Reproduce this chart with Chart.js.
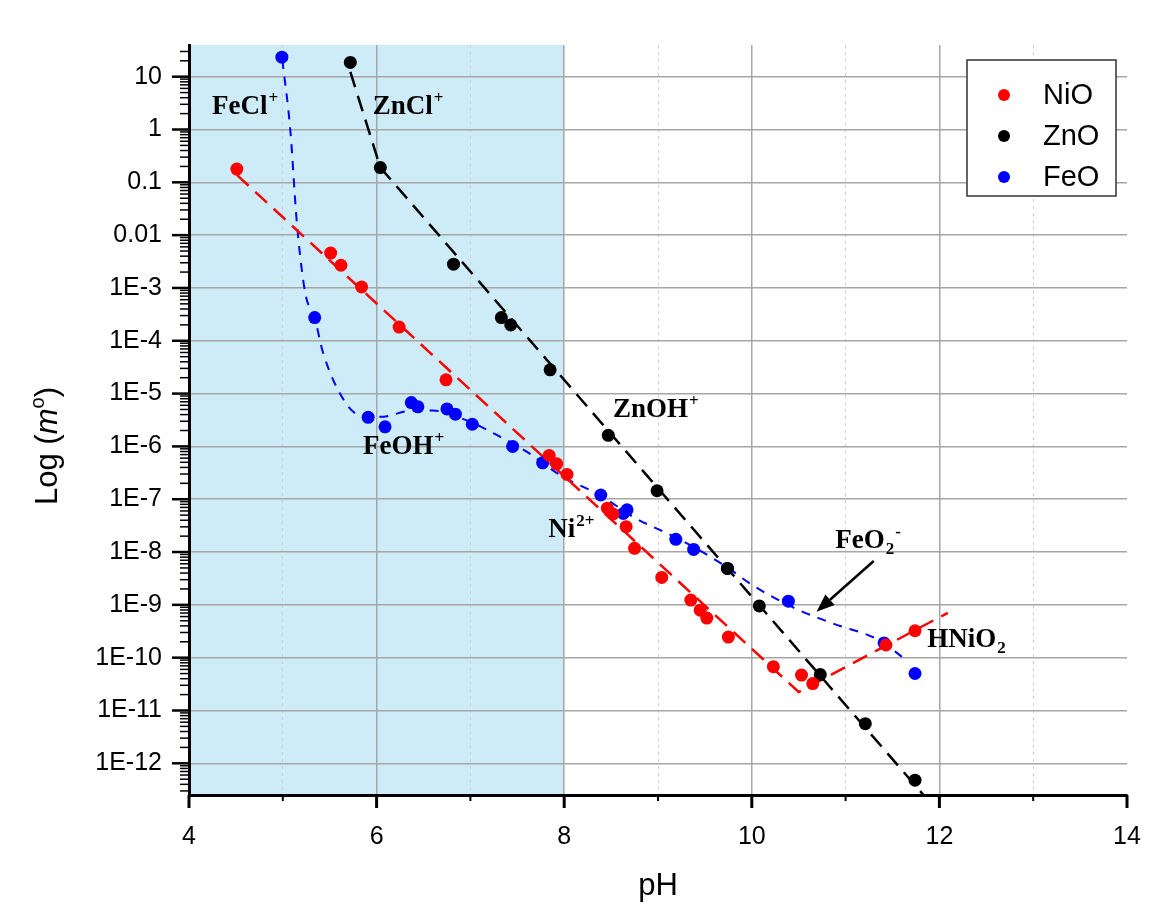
<!DOCTYPE html>
<html>
<head>
<meta charset="utf-8">
<script src="https://cdn.jsdelivr.net/npm/chart.js@4.4.0/dist/chart.umd.min.js"></script>
<style>
  body { margin: 0; background: #fff; }
  #wrap { width: 1149px; height: 915px; }
</style>
</head>
<body>
<div id="wrap"><canvas id="chart" width="1149" height="915"></canvas></div>
<script>
// -----------------------------------------------------------------------------
// DATA (y values are log10 of m°)
// -----------------------------------------------------------------------------

// NiO measured points
const niPH  = [4.51, 5.51, 5.62, 5.84, 6.24, 6.74, 7.84, 7.92, 8.03, 8.46, 8.52, 8.66, 8.75, 9.04, 9.35, 9.45, 9.52, 9.75, 10.23, 10.53, 10.65, 11.43, 11.74];
const niLog = [-0.75, -2.34, -2.57, -2.98, -3.74, -4.74, -6.17, -6.33, -6.53, -7.17, -7.28, -7.52, -7.93, -8.48, -8.91, -9.10, -9.25, -9.61, -10.17, -10.33, -10.49, -9.76, -9.49];

// ZnO measured points
const znPH  = [5.72, 6.04, 6.82, 7.33, 7.43, 7.85, 8.47, 8.99, 9.74, 10.08, 10.73, 11.21, 11.74];
const znLog = [1.27, -0.72, -2.55, -3.56, -3.70, -4.55, -5.79, -6.84, -8.31, -9.02, -10.32, -11.25, -12.32];

// FeO measured points
const fePH  = [4.99, 5.34, 5.91, 6.09, 6.37, 6.44, 6.75, 6.84, 7.02, 7.45, 7.77, 8.39, 8.63, 8.67, 9.19, 9.38, 9.74, 10.39, 11.41, 11.74];
const feLog = [1.37, -3.56, -5.45, -5.63, -5.17, -5.25, -5.29, -5.39, -5.58, -6.00, -6.31, -6.92, -7.27, -7.20, -7.76, -7.95, -8.31, -8.93, -9.72, -10.30];

// model curves (dashed)
const niFitPH  = [4.51, 10.50, 12.09];
const niFitLog = [-0.86, -10.65, -9.15];
const znFitPH  = [5.72, 6.04, 11.85];
const znFitLog = [1.09, -0.72, -12.64];
const feFitPH  = [4.995, 5.08, 5.15, 5.24, 5.34, 5.43, 5.65, 5.82, 6.04, 6.39, 6.60, 6.99, 7.32, 7.60, 7.99, 8.38, 8.73, 9.24, 9.73, 10.01, 10.43, 10.86, 11.36, 11.62];
const feFitLog = [1.32, -0.01, -1.77, -3.10, -3.57, -4.23, -5.12, -5.41, -5.44, -5.32, -5.32, -5.53, -5.82, -6.10, -6.58, -6.92, -7.33, -7.77, -8.28, -8.63, -9.04, -9.35, -9.67, -10.01];

// axes
const xMin = 4, xMax = 14;
const yMinExp = -12.6, yMaxExp = 1.6;
const yTickExps   = [-12, -11, -10, -9, -8, -7, -6, -5, -4, -3, -2, -1, 0, 1];
const yTickLabels = ['1E-12', '1E-11', '1E-10', '1E-9', '1E-8', '1E-7', '1E-6', '1E-5', '1E-4', '1E-3', '0.01', '0.1', '1', '10'];

// shaded acidic region
const shadeFrom = 4, shadeTo = 8;

// species labels
const spText = ['FeCl', 'ZnCl', 'FeOH', 'ZnOH', 'Ni', 'FeO', 'HNiO'];
const spSub  = ['', '', '', '', '', '2', '2'];
const spSup  = ['+', '+', '+', '+', '2+', '-', ''];
const spPH   = [4.245, 5.96, 5.855, 8.52, 7.83, 10.89, 11.87];
const spLog  = [0.29, 0.29, -6.15, -5.45, -7.72, -7.92, -9.80];

// arrow pointing at the FeO2- branch
const arrowPH  = [11.30, 10.69];
const arrowLog = [-8.17, -9.13];

const seriesNames  = ['NiO', 'ZnO', 'FeO'];
const seriesColors = ['#ff0000', '#000000', '#0000ff'];

// -----------------------------------------------------------------------------
// HELPERS
// -----------------------------------------------------------------------------

function toPoints(xs, logs) {
  return xs.map((x, i) => ({ x: x, y: Math.pow(10, logs[i]) }));
}

const SANS = '"Liberation Sans", Arial, sans-serif';
const SERIF = '"Liberation Serif", "Times New Roman", serif';

function drawSpecies(ctx, x, y, text, sub, sup) {
  ctx.fillStyle = '#000';
  ctx.textBaseline = 'alphabetic';
  ctx.textAlign = 'left';
  ctx.font = 'bold 27px ' + SERIF;
  ctx.fillText(text, x, y);
  let cx = x + ctx.measureText(text).width;
  ctx.font = 'bold 17px ' + SERIF;
  if (sub) {
    ctx.fillText(sub, cx + 1, y + 6);
    cx += ctx.measureText(sub).width + 1;
  }
  if (sup) {
    ctx.fillText(sup, cx + 1, y - 11);
  }
}

// -----------------------------------------------------------------------------
// PLUGIN: shading, tick marks, labels, legend
// -----------------------------------------------------------------------------

const extras = {
  id: 'extras',
  beforeDraw(chart) {
    const { ctx, chartArea, scales: { x } } = chart;
    const x0 = x.getPixelForValue(shadeFrom);
    const x1 = x.getPixelForValue(shadeTo);
    ctx.save();
    ctx.fillStyle = '#cdecf8';
    ctx.fillRect(x0, chartArea.top, x1 - x0, chartArea.bottom - chartArea.top);
    ctx.restore();
  },
  afterDraw(chart) {
    const { ctx, chartArea, scales: { x, y } } = chart;
    ctx.save();

    // x tick marks (outside, below)
    ctx.strokeStyle = '#000';
    for (let v = xMin; v <= xMax; v++) {
      const px = x.getPixelForValue(v);
      const major = v % 2 === 0;
      ctx.lineWidth = major ? 3 : 2;
      ctx.beginPath();
      ctx.moveTo(px, chartArea.bottom);
      ctx.lineTo(px, chartArea.bottom + (major ? 13 : 6));
      ctx.stroke();
    }

    // y tick marks (outside, left), decades + minor
    for (let e = -13; e <= 1; e++) {
      for (let m = 1; m <= 9; m++) {
        const lg = e + Math.log10(m);
        if (lg < yMinExp || lg > yMaxExp) continue;
        const py = y.getPixelForValue(m * Math.pow(10, e));
        const major = m === 1;
        ctx.lineWidth = major ? 2.5 : 1.5;
        ctx.beginPath();
        ctx.moveTo(chartArea.left, py);
        ctx.lineTo(chartArea.left - (major ? 17 : 9), py);
        ctx.stroke();
      }
    }

    // species labels
    spText.forEach((t, i) => {
      drawSpecies(ctx, x.getPixelForValue(spPH[i]), y.getPixelForValue(Math.pow(10, spLog[i])), t, spSub[i], spSup[i]);
    });

    // arrow
    const ax0 = x.getPixelForValue(arrowPH[0]), ay0 = y.getPixelForValue(Math.pow(10, arrowLog[0]));
    const ax1 = x.getPixelForValue(arrowPH[1]), ay1 = y.getPixelForValue(Math.pow(10, arrowLog[1]));
    const ang = Math.atan2(ay1 - ay0, ax1 - ax0);
    const headLen = 18, headW = 7;
    const bx = ax1 - headLen * Math.cos(ang), by = ay1 - headLen * Math.sin(ang);
    ctx.strokeStyle = '#000';
    ctx.fillStyle = '#000';
    ctx.lineWidth = 2.5;
    ctx.beginPath();
    ctx.moveTo(ax0, ay0);
    ctx.lineTo(bx, by);
    ctx.stroke();
    ctx.beginPath();
    ctx.moveTo(ax1, ay1);
    ctx.lineTo(bx + headW * Math.sin(ang), by - headW * Math.cos(ang));
    ctx.lineTo(bx - headW * Math.sin(ang), by + headW * Math.cos(ang));
    ctx.closePath();
    ctx.fill();

    // legend
    ctx.fillStyle = '#fff';
    ctx.fillRect(967, 60, 149, 136);
    ctx.strokeStyle = '#333';
    ctx.lineWidth = 1.5;
    ctx.strokeRect(967, 60, 149, 136);
    ctx.font = '29px ' + SANS;
    ctx.textBaseline = 'middle';
    ctx.textAlign = 'left';
    seriesNames.forEach((name, i) => {
      const ly = 95 + i * 41;
      ctx.fillStyle = seriesColors[i];
      ctx.beginPath();
      ctx.arc(1004, ly, 6, 0, Math.PI * 2);
      ctx.fill();
      ctx.fillStyle = '#000';
      ctx.fillText(name, 1043, ly + 1);
    });

    // x title
    ctx.font = '31px ' + SANS;
    ctx.textAlign = 'center';
    ctx.textBaseline = 'middle';
    ctx.fillText('pH', (chartArea.left + chartArea.right) / 2, 886);

    // y title: Log (m°)
    ctx.translate(57, 446);
    ctx.rotate(-Math.PI / 2);
    const parts = [
      { t: 'Log (', f: '31px ' + SANS, dy: 0 },
      { t: 'm', f: 'italic 31px ' + SANS, dy: 0 },
      { t: 'o', f: '20px ' + SANS, dy: -13 },
      { t: ')', f: '31px ' + SANS, dy: 0 }
    ];
    let total = 0;
    parts.forEach(p => { ctx.font = p.f; p.w = ctx.measureText(p.t).width; total += p.w; });
    let cx = -total / 2;
    ctx.textAlign = 'left';
    ctx.textBaseline = 'alphabetic';
    parts.forEach(p => { ctx.font = p.f; ctx.fillText(p.t, cx, p.dy); cx += p.w; });

    ctx.restore();
  }
};

// -----------------------------------------------------------------------------
// CHART
// -----------------------------------------------------------------------------

const pointStyle = (color) => ({
  showLine: false,
  pointRadius: 6.5,
  pointBackgroundColor: color,
  pointBorderWidth: 0,
  pointHoverRadius: 6.5
});

const lineStyle = (color, dash, width) => ({
  showLine: true,
  borderColor: color,
  borderDash: dash,
  borderWidth: width,
  pointRadius: 0,
  fill: false
});

new Chart(document.getElementById('chart'), {
  type: 'scatter',
  data: {
    datasets: [
      { label: 'NiO', data: toPoints(niPH, niLog), ...pointStyle(seriesColors[0]) },
      { label: 'ZnO', data: toPoints(znPH, znLog), ...pointStyle(seriesColors[1]) },
      { label: 'FeO', data: toPoints(fePH, feLog), ...pointStyle(seriesColors[2]) },
      { label: 'NiO fit', data: toPoints(niFitPH, niFitLog), ...lineStyle('#ff0000', [16, 9], 2.5), tension: 0 },
      { label: 'ZnO fit', data: toPoints(znFitPH, znFitLog), ...lineStyle('#000000', [16, 9], 2.5), tension: 0 },
      { label: 'FeO fit', data: toPoints(feFitPH, feFitLog), ...lineStyle('#0000ff', [9, 8], 2), cubicInterpolationMode: 'monotone' }
    ]
  },
  options: {
    responsive: false,
    animation: false,
    devicePixelRatio: 1,
    layout: { padding: { left: 0, top: 45, right: 22, bottom: 0 } },
    plugins: {
      legend: { display: false },
      tooltip: { enabled: false }
    },
    scales: {
      x: {
        type: 'linear',
        min: xMin,
        max: xMax,
        afterFit: (scale) => {
          scale.height = 120;
          scale.paddingLeft = 0;
          scale.paddingRight = 0;
        },
        ticks: {
          stepSize: 1,
          autoSkip: false,
          maxRotation: 0,
          padding: 27,
          color: '#000',
          font: { family: SANS, size: 25 },
          callback: (v) => (v % 2 === 0 ? String(v) : '')
        },
        grid: {
          drawTicks: false,
          color: (c) => {
            if (!c.tick) return '#a6a6a6';
            if (c.tick.value === xMax) return 'rgba(0,0,0,0)';
            return c.tick.value % 2 === 0 ? '#a6a6a6' : '#cfcfcf';
          },
          lineWidth: (c) => (c.tick && c.tick.value % 2 !== 0 ? 1 : 1.5)
        },
        border: {
          color: '#000',
          width: 3,
          dash: (c) => (c.tick && c.tick.value % 2 !== 0 ? [3, 4] : [])
        }
      },
      y: {
        type: 'logarithmic',
        min: Math.pow(10, yMinExp),
        max: Math.pow(10, yMaxExp),
        afterFit: (scale) => {
          scale.width = 189;
          scale.paddingTop = 0;
          scale.paddingBottom = 0;
        },
        afterBuildTicks: (scale) => {
          scale.ticks = yTickExps.map(e => ({ value: Math.pow(10, e) }));
        },
        ticks: {
          padding: 27,
          color: '#000',
          font: { family: SANS, size: 25 },
          callback: (v, i) => yTickLabels[i]
        },
        grid: {
          drawTicks: false,
          color: '#a6a6a6',
          lineWidth: 1.5
        },
        border: { color: '#000', width: 3 }
      }
    }
  },
  plugins: [extras]
});
</script>
</body>
</html>
